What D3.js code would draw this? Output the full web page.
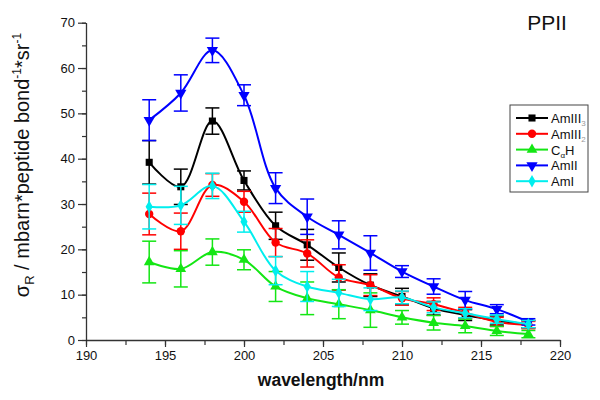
<!DOCTYPE html>
<html>
<head>
<meta charset="utf-8">
<script src="https://cdn.jsdelivr.net/npm/d3@7"></script>
<style>
  body { margin: 0; background: #fff; }
  text { font-family: Arial, "Liberation Sans", sans-serif; }
</style>
</head>
<body>
<script>
/* wavelengths (nm) */
const wavelength = [194, 196, 198, 200, 202, 204, 206, 208, 210, 212, 214, 216, 218];

/* series values and error bars */
const amIII3 = [39.2, 33.8, 48.3, 35.2, 25.2, 21.0, 16.0, 12.1, 9.6, 7.0, 5.5, 4.3, 3.5];
const amIII3Err = [4.8, 3.9, 2.9, 2.1, 3.0, 3.4, 3.2, 2.5, 1.8, 1.5, 1.2, 1.0, 0.8];
const amIII2 = [27.8, 24.0, 34.2, 30.5, 21.5, 19.1, 13.8, 12.1, 9.2, 7.9, 6.0, 4.0, 3.3];
const amIII2Err = [4.6, 4.0, 2.5, 2.3, 3.1, 3.0, 2.8, 2.3, 1.5, 1.4, 1.2, 1.0, 0.8];
const caH = [17.2, 15.7, 19.4, 17.7, 11.8, 9.2, 7.9, 6.6, 5.0, 3.8, 3.1, 2.0, 1.3];
const caHErr = [4.6, 4.0, 2.9, 2.2, 3.3, 3.6, 3.2, 3.8, 1.5, 1.6, 1.5, 1.0, 0.8];
const amII = [48.5, 54.5, 63.9, 54.0, 33.5, 27.2, 23.2, 19.2, 15.1, 11.8, 8.8, 6.8, 4.0];
const amIIErr = [4.5, 4.0, 2.7, 2.3, 3.4, 3.9, 3.1, 3.8, 1.3, 1.7, 1.9, 1.0, 0.7];
const amI = [29.4, 29.7, 34.0, 26.1, 15.3, 11.8, 10.4, 9.0, 9.4, 7.2, 5.9, 4.6, 3.5];
const amIErr = [4.9, 4.2, 2.8, 2.3, 3.1, 3.3, 3.0, 2.5, 1.4, 1.2, 1.0, 0.9, 0.8];

/* tick labels */
const xTicks = [190, 195, 200, 205, 210, 215, 220];
const yTicks = [0, 10, 20, 30, 40, 50, 60, 70];

const width = 600;
const height = 400;
const padding = { top: 22.7, bottom: 60, left: 86, right: 40 };

const series = [
  { name: 'AmIII', sub: '3', vals: amIII3, err: amIII3Err, color: '#000000', sym: d3.symbolSquare, size: 50, rot: 0 },
  { name: 'AmIII', sub: '2', vals: amIII2, err: amIII2Err, color: '#ff0000', sym: d3.symbolCircle, size: 55, rot: 0 },
  { name: 'CαH', sub: null, vals: caH, err: caHErr, color: '#14e614', sym: d3.symbolTriangle, size: 50, rot: 0 },
  { name: 'AmII', sub: null, vals: amII, err: amIIErr, color: '#0000ff', sym: d3.symbolTriangle, size: 55, rot: 180 },
  { name: 'AmI', sub: null, vals: amI, err: amIErr, color: '#00eeee', sym: d3.symbolDiamond, size: 45, rot: 0 }
];

const svg = d3.select('body').append('svg')
  .attr('width', width)
  .attr('height', height);

/* scales */
const xScale = d3.scaleLinear().domain([190, 220]).range([padding.left, 560]);
const yScale = d3.scaleLinear().domain([0, 70]).range([340, padding.top]);

/* axes */
svg.append('g')
  .attr('transform', 'translate(0,340)')
  .call(d3.axisBottom(xScale).tickValues(d3.range(190, 220.1, 2.5)).tickSize(5).tickSizeOuter(0).tickFormat(''))
  .call(g => g.selectAll('.tick line').attr('stroke', '#333').attr('stroke-width', 1.2));
svg.append('g')
  .attr('transform', 'translate(0,340)')
  .call(d3.axisBottom(xScale).tickValues(xTicks).tickSize(7).tickSizeOuter(0).tickPadding(4))
  .call(g => g.select('.domain').attr('stroke', '#333').attr('stroke-width', 1.3))
  .call(g => g.selectAll('.tick line').attr('stroke', '#333').attr('stroke-width', 1.2))
  .call(g => g.selectAll('text').attr('font-size', 13).attr('fill', '#111'));

svg.append('g')
  .attr('transform', `translate(${padding.left},0)`)
  .call(d3.axisLeft(yScale).tickValues(d3.range(0, 70.1, 5)).tickSize(4).tickSizeOuter(0).tickFormat(''))
  .call(g => g.selectAll('.tick line').attr('stroke', '#333').attr('stroke-width', 1.2));
svg.append('g')
  .attr('transform', `translate(${padding.left},0)`)
  .call(d3.axisLeft(yScale).tickValues(yTicks).tickSize(8).tickSizeOuter(0).tickPadding(3))
  .call(g => g.select('.domain').attr('stroke', '#333').attr('stroke-width', 1.3))
  .call(g => g.selectAll('.tick line').attr('stroke', '#333').attr('stroke-width', 1.2))
  .call(g => g.selectAll('text').attr('font-size', 13).attr('fill', '#111'));

/* lines */
const line = d3.line()
  .x((d, i) => xScale(wavelength[i]))
  .y(d => yScale(d))
  .curve(d3.curveCatmullRom.alpha(0.5));

const capW = 7;
series.forEach(s => {
  const g = svg.append('g');
  g.append('path').datum(s.vals)
    .attr('fill', 'none').attr('stroke', s.color).attr('stroke-width', 2).attr('d', line);

  const eb = g.selectAll('.eb').data(s.vals).enter().append('g');
  eb.append('line')
    .attr('x1', (d, i) => xScale(wavelength[i])).attr('x2', (d, i) => xScale(wavelength[i]))
    .attr('y1', (d, i) => yScale(d + s.err[i])).attr('y2', (d, i) => yScale(d - s.err[i]))
    .attr('stroke', s.color).attr('stroke-width', 1.5);
  eb.append('line')
    .attr('x1', (d, i) => xScale(wavelength[i]) - capW).attr('x2', (d, i) => xScale(wavelength[i]) + capW)
    .attr('y1', (d, i) => yScale(d + s.err[i])).attr('y2', (d, i) => yScale(d + s.err[i]))
    .attr('stroke', s.color).attr('stroke-width', 1.5);
  eb.append('line')
    .attr('x1', (d, i) => xScale(wavelength[i]) - capW).attr('x2', (d, i) => xScale(wavelength[i]) + capW)
    .attr('y1', (d, i) => yScale(d - s.err[i])).attr('y2', (d, i) => yScale(d - s.err[i]))
    .attr('stroke', s.color).attr('stroke-width', 1.5);

  g.selectAll('.pt').data(s.vals).enter().append('path')
    .attr('d', d3.symbol().type(s.sym).size(s.size))
    .attr('fill', s.color)
    .attr('transform', (d, i) => `translate(${xScale(wavelength[i])},${yScale(d)}) rotate(${s.rot})`);
});

/* legend */
const legend = svg.append('g');
legend.append('rect')
  .attr('x', 510).attr('y', 105).attr('width', 78).attr('height', 87)
  .attr('fill', '#fff').attr('stroke', '#444').attr('stroke-width', 1);
series.forEach((s, i) => {
  const y = 118 + i * 15.8;
  legend.append('line').attr('x1', 516).attr('x2', 548).attr('y1', y).attr('y2', y)
    .attr('stroke', s.color).attr('stroke-width', 2);
  legend.append('path')
    .attr('d', d3.symbol().type(s.sym).size(s.size))
    .attr('fill', s.color)
    .attr('transform', `translate(532,${y}) rotate(${s.rot})`);
  const t = legend.append('text').attr('x', 551).attr('y', y + 5).attr('font-size', 13).attr('fill', '#111');
  if (s.name === 'CαH') {
    t.append('tspan').text('C');
    t.append('tspan').attr('font-size', 8).attr('dy', 3).text('α');
    t.append('tspan').attr('dy', -3).text('H');
  } else {
    t.append('tspan').text(s.name);
    if (s.sub) t.append('tspan').attr('font-size', 8).attr('dy', 3).attr('fill', '#999').text(s.sub);
  }
});

/* title */
svg.append('text').attr('x', 547).attr('y', 30).attr('text-anchor', 'middle')
  .attr('font-size', 21).attr('fill', '#111').text('PPII');

/* x title */
svg.append('text').attr('x', 321).attr('y', 386).attr('text-anchor', 'middle')
  .attr('font-size', 17.5).attr('font-weight', 'bold').attr('fill', '#111').text('wavelength/nm');

/* y title */
const yt = svg.append('text')
  .attr('transform', 'translate(29,165) rotate(-90)')
  .attr('text-anchor', 'middle').attr('font-size', 20).attr('fill', '#111');
yt.append('tspan').text('σ');
yt.append('tspan').attr('font-size', 13).attr('dy', 5).text('R');
yt.append('tspan').attr('dy', -5).text(' / mbarn*peptide bond');
yt.append('tspan').attr('font-size', 12).attr('dy', -8).text('-1');
yt.append('tspan').attr('dy', 8).text('*sr');
yt.append('tspan').attr('font-size', 12).attr('dy', -8).text('-1');
</script>
</body>
</html>
